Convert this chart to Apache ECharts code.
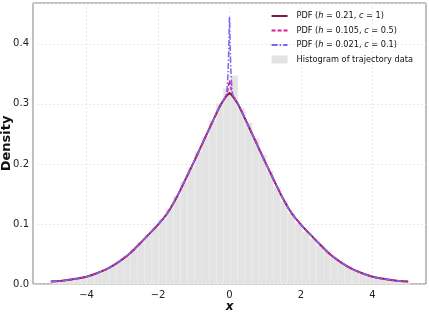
<!DOCTYPE html>
<html><head><meta charset="utf-8">
<script src="https://cdn.jsdelivr.net/npm/echarts@6/dist/echarts.min.js"></script>
<style>html,body{margin:0;padding:0;background:#fff}#c{width:429px;height:317px}</style>
</head><body><div id="c"></div>
<script>
// x positions of PDF curves
const pdfX = [-5,-4.75,-4.5,-4.25,-4,-3.75,-3.5,-3.25,-3,-2.75,-2.5,-2.25,-2,-1.75,-1.5,-1.25,-1,-0.75,-0.5,-0.25,-0.1,-0.07,-0.04,-0.02,0,0.02,0.04,0.07,0.1,0.25,0.5,0.75,1,1.25,1.5,1.75,2,2.25,2.5,2.75,3,3.25,3.5,3.75,4,4.25,4.5,4.75,5];
const pdfH021 = [0.004,0.005,0.007,0.009,0.012,0.017,0.023,0.031,0.041,0.053,0.068,0.083,0.099,0.117,0.142,0.172,0.203,0.235,0.267,0.298,0.312,0.314,0.316,0.317,0.318,0.317,0.316,0.314,0.312,0.298,0.267,0.235,0.203,0.172,0.142,0.117,0.099,0.083,0.068,0.053,0.041,0.031,0.023,0.017,0.012,0.009,0.007,0.005,0.004];
const pdfH0105 = [0.004,0.005,0.007,0.009,0.012,0.017,0.023,0.031,0.041,0.053,0.068,0.083,0.099,0.117,0.142,0.172,0.203,0.235,0.267,0.299,0.313,0.318,0.326,0.333,0.339,0.333,0.326,0.318,0.313,0.299,0.267,0.235,0.203,0.172,0.142,0.117,0.099,0.083,0.068,0.053,0.041,0.031,0.023,0.017,0.012,0.009,0.007,0.005,0.004];
const pdfH0021 = [0.004,0.005,0.007,0.009,0.012,0.017,0.023,0.031,0.041,0.053,0.068,0.083,0.099,0.117,0.142,0.172,0.203,0.235,0.267,0.299,0.314,0.325,0.355,0.395,0.445,0.395,0.355,0.325,0.314,0.299,0.267,0.235,0.203,0.172,0.142,0.117,0.099,0.083,0.068,0.053,0.041,0.031,0.023,0.017,0.012,0.009,0.007,0.005,0.004];
// histogram bins
const binCenters = [-4.87,-4.67,-4.47,-4.27,-4.07,-3.87,-3.67,-3.47,-3.27,-3.07,-2.87,-2.67,-2.47,-2.27,-2.07,-1.87,-1.67,-1.47,-1.27,-1.07,-0.87,-0.67,-0.47,-0.27,-0.07,0.13,0.33,0.53,0.73,0.93,1.13,1.33,1.53,1.73,1.93,2.13,2.33,2.53,2.73,2.93,3.13,3.33,3.53,3.73,3.93,4.13,4.33,4.53,4.73,4.93];
const binWidth = 0.2;
const histDensity = [0.0045,0.0055,0.007,0.009,0.011,0.014,0.018,0.024,0.030,0.038,0.047,0.058,0.070,0.082,0.094,0.108,0.125,0.146,0.170,0.194,0.220,0.245,0.272,0.300,0.325,0.347,0.292,0.268,0.242,0.215,0.188,0.162,0.138,0.118,0.101,0.087,0.075,0.064,0.054,0.044,0.036,0.029,0.023,0.018,0.014,0.011,0.009,0.007,0.0055,0.0045];
const xTicks = [-4,-2,0,2,4];
const seriesNames = ['PDF (h = 0.21, c = 1)','PDF (h = 0.105, c = 0.5)','PDF (h = 0.021, c = 0.1)','Histogram of trajectory data'];

const FONT = 'DejaVu Sans';
const zip = (xs, ys) => xs.map((x,i)=>[x, ys[i]]);
const chart = echarts.init(document.getElementById('c'), null, {renderer:'canvas'});
const fmtMinus = v => String(v).replace('-', '\u2212');

function legendFmt(name){
  const m = name.match(/^PDF \(h = ([\d.]+), c = ([\d.]+)\)$/);
  if(!m) return name;
  return 'PDF ({i|h} = ' + m[1] + ', {i|c} = ' + m[2] + ')';
}
const hidden = {opacity:0};

chart.setOption({
  animation:false,
  textStyle:{fontFamily:FONT},
  grid:{left:33, right:3, top:3, bottom:33, outerBoundsMode:'none', containLabel:false, show:true, borderColor:'#808080', borderWidth:1},
  legend:{
    top:7, right:11, orient:'vertical', itemGap:6.5, itemWidth:16, itemHeight:8,
    data:[
      {name:seriesNames[0], itemStyle:hidden},{name:seriesNames[1], itemStyle:hidden},{name:seriesNames[2], itemStyle:hidden},
      {name:seriesNames[3], icon:'rect', itemStyle:{color:'#e3e3e3', opacity:1}}
    ],
    formatter:legendFmt,
    textStyle:{fontFamily:FONT, fontSize:8.2, color:'#111', padding:[0,0,0,4], rich:{i:{fontStyle:'italic', fontFamily:FONT, fontSize:8.2}}}
  },
  xAxis:{
    type:'value', min:-5.5, max:5.5,
    name:'x', nameLocation:'middle', nameGap:17, nameMoveOverlap:false,
    nameTextStyle:{fontFamily:FONT, fontSize:12, fontStyle:'italic', fontWeight:'bold', color:'#111'},
    axisLine:{show:false},
    axisTick:{show:false, customValues:xTicks},
    axisLabel:{customValues:xTicks, formatter:fmtMinus, fontSize:10, color:'#222', margin:6},
    splitLine:{show:true, lineStyle:{color:'#e4e4e4', type:[2,2], width:0.8}}
  },
  yAxis:{
    type:'value', min:0, max:0.468, interval:0.1,
    name:'Density', nameLocation:'middle', nameGap:20, nameMoveOverlap:false,
    nameTextStyle:{fontFamily:FONT, fontSize:13, fontWeight:'bold', color:'#111'},
    axisLine:{show:false}, axisTick:{show:false},
    axisLabel:{formatter:v=>v.toFixed(1), fontSize:10, color:'#222', margin:4, showMaxLabel:false},
    splitLine:{show:true, lineStyle:{color:'#e4e4e4', type:[2,2], width:0.8}}
  },
  series:[
    {
      name:seriesNames[3], type:'custom', z:1,
      itemStyle:{color:'#e3e3e3'},
      data: binCenters.map((c,i)=>[c, histDensity[i]]),
      encode:{x:0, y:1},
      renderItem:(params, api)=>{
        const c = api.value(0), h = api.value(1);
        const p0 = api.coord([c - binWidth/2, h]);
        const p1 = api.coord([c + binWidth/2, 0]);
        return {type:'rect', shape:{x:p0[0], y:p0[1], width:p1[0]-p0[0], height:p1[1]-p0[1]},
          style:{fill:'#e3e3e3', stroke:'#ececec', lineWidth:0.6}};
      }
    },
    {name:seriesNames[0], type:'line', z:3, symbol:'none', smooth:0.3, data:zip(pdfX,pdfH021),
      lineStyle:{color:'#7b1c47', width:2}, itemStyle:{color:'#7b1c47'}},
    {name:seriesNames[1], type:'line', z:4, symbol:'none', smooth:0.3, data:zip(pdfX,pdfH0105),
      lineStyle:{color:'#e0189a', width:1.5, type:[4,2]}, itemStyle:{color:'#e0189a'}},
    {name:seriesNames[2], type:'line', z:5, symbol:'none', smooth:0.3, data:zip(pdfX,pdfH0021),
      lineStyle:{color:'#7b68ee', width:1.5, type:[6,2,1.5,2]}, itemStyle:{color:'#7b68ee'}}
  ]
});
</script></body></html>
